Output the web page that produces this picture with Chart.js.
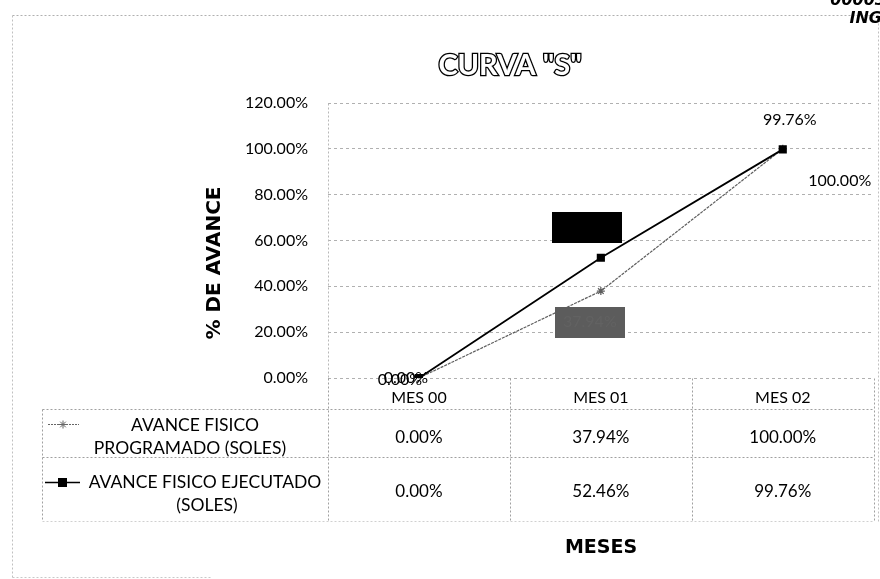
<!DOCTYPE html>
<html>
<head>
<meta charset="utf-8">
<title>Curva S</title>
<script src="https://cdn.jsdelivr.net/npm/chart.js@4.4.0/dist/chart.umd.min.js"></script>
<style>
  html, body { margin: 0; padding: 0; background: #fff; }
  #wrap { width: 880px; height: 579px; }
</style>
</head>
<body>
<div id="wrap"><canvas id="curvaS" width="880" height="579"></canvas></div>
<script>
// avance mensual (%)
const meses = ["MES 00", "MES 01", "MES 02"];
const programado = [0, 37.94, 100];
const ejecutado = [0, 52.46, 99.76];
const yMin = 0, yMax = 120, yStep = 20;
const serieNames = [
  ["AVANCE FISICO", "PROGRAMADO (SOLES)"],
  ["AVANCE FISICO EJECUTADO", "(SOLES)"]
];

const FONT = "Lato, 'Liberation Sans', sans-serif";
const BOLD = "'DejaVu Sans', 'Liberation Sans', sans-serif";
const pct = v => v.toFixed(2) + "%";

// where each value label sits relative to its point, and its box fill
const labelPos = [
  [{ dx: -19, dy: 2 }, { dx: -11, dy: 31, box: "#5c5c5c" }, { dx: 57, dy: 32 }],
  [{ dx: -13, dy: 0 }, { dx: -14, dy: -31, box: "#000" }, { dx: 7, dy: -30 }]
];

function dotted(ctx, x1, y1, x2, y2, color) {
  ctx.save();
  ctx.strokeStyle = color || "#a0a0a0";
  ctx.lineWidth = 1;
  ctx.setLineDash([2, 2]);
  ctx.beginPath();
  ctx.moveTo(x1 + 0.5, y1 + 0.5);
  ctx.lineTo(x2 + 0.5, y2 + 0.5);
  ctx.stroke();
  ctx.restore();
}

const extras = {
  id: "curvaExtras",
  afterDatasetsDraw(chart) {
    const ctx = chart.ctx;
    ctx.save();
    ctx.font = "16px " + FONT;
    ctx.textAlign = "center";
    ctx.textBaseline = "middle";
    chart.data.datasets.forEach((ds, di) => {
      chart.getDatasetMeta(di).data.forEach((pt, i) => {
        const p = labelPos[di][i];
        const x = pt.x + p.dx, y = pt.y + p.dy;
        const txt = pct(ds.data[i]);
        if (p.box) {
          const w = ctx.measureText(txt).width + 16;
          ctx.fillStyle = p.box;
          ctx.fillRect(Math.round(x - w / 2), Math.round(y - 15), Math.round(w), 31);
          ctx.fillStyle = p.box === "#000" ? "#000" : "#626262";
        } else {
          ctx.fillStyle = "#000";
        }
        ctx.fillText(txt, x, y);
      });
    });
    ctx.restore();
  },
  afterDraw(chart) {
    const ctx = chart.ctx;
    const area = chart.chartArea;
    const xs = chart.scales.x;

    // outer frame
    dotted(ctx, 12, 15, 878, 15, "#b0b0b0");
    dotted(ctx, 12, 15, 12, 577, "#c0c0c0");
    dotted(ctx, 878, 15, 878, 522, "#c0c0c0");
    dotted(ctx, 12, 577, 210, 577, "#c8c8c8");

    // title, outlined lettering
    ctx.save();
    ctx.font = "bold 29px " + FONT;
    ctx.textAlign = "center";
    ctx.textBaseline = "middle";
    ctx.lineWidth = 2.6;
    ctx.strokeStyle = "#000";
    ctx.fillStyle = "#fff";
    ctx.strokeText('CURVA "S"', 510, 66);
    ctx.fillText('CURVA "S"', 510, 66);
    ctx.restore();

    // axis titles
    ctx.save();
    ctx.fillStyle = "#000";
    ctx.font = "bold 19px " + BOLD;
    ctx.textAlign = "center";
    ctx.textBaseline = "middle";
    ctx.fillText("MESES", 601, 548);
    ctx.font = "bold 20px " + BOLD;
    ctx.translate(215, 263);
    ctx.rotate(-Math.PI / 2);
    ctx.fillText("% DE AVANCE", 0, 0);
    ctx.restore();

    // corner stamp
    ctx.save();
    ctx.fillStyle = "#000";
    ctx.font = "italic bold 16px " + BOLD;
    ctx.textAlign = "right";
    ctx.textBaseline = "alphabetic";
    ctx.fillText("ING", 882, 23);
    ctx.fillText("00003", 886, 5);
    ctx.restore();

    // data table
    const step = xs.getPixelForValue(1) - xs.getPixelForValue(0);
    const bounds = [area.left];
    meses.forEach((m, i) => bounds.push(Math.round(xs.getPixelForValue(i) + step / 2)));
    const tLeft = 42, r0 = area.bottom, r1 = 409, r2 = 457, r3 = 521;
    dotted(ctx, tLeft, r1, area.right, r1);
    dotted(ctx, tLeft, r2, area.right, r2);
    dotted(ctx, tLeft, r3, area.right, r3, "#d0d0d0");
    dotted(ctx, tLeft, r1, tLeft, r3);
    bounds.forEach(b => dotted(ctx, b, r0, b, r3));
    dotted(ctx, area.left, area.top, area.left, r0, "#b8b8b8");

    ctx.save();
    ctx.fillStyle = "#000";
    ctx.font = "17.5px " + FONT;
    ctx.textAlign = "center";
    ctx.textBaseline = "middle";
    ctx.fillText(serieNames[0][0], 195, 425);
    ctx.fillText(serieNames[0][1], 190, 448);
    ctx.fillText(serieNames[1][0], 205, 482);
    ctx.fillText(serieNames[1][1], 207, 505);
    ctx.font = "17px " + FONT;
    [programado, ejecutado].forEach((vals, r) => {
      vals.forEach((v, i) => ctx.fillText(pct(v), xs.getPixelForValue(i), r === 0 ? 438 : 492));
    });
    ctx.restore();

    // legend keys inside the table
    ctx.save();
    ctx.strokeStyle = "#666";
    ctx.fillStyle = "#666";
    ctx.lineWidth = 1;
    ctx.setLineDash([2, 1]);
    ctx.beginPath(); ctx.moveTo(48, 424.5); ctx.lineTo(79, 424.5); ctx.stroke();
    ctx.setLineDash([]);
    Chart.helpers.drawPoint(ctx, { pointStyle: "star", radius: 4, borderWidth: 1.2 }, 63, 424.5);
    ctx.strokeStyle = "#000";
    ctx.fillStyle = "#000";
    ctx.lineWidth = 1.5;
    ctx.beginPath(); ctx.moveTo(45, 482.5); ctx.lineTo(80, 482.5); ctx.stroke();
    ctx.fillRect(58, 478, 9, 9);
    ctx.restore();
  }
};

new Chart("curvaS", {
  type: "line",
  data: {
    labels: meses,
    datasets: [
      {
        label: serieNames[0].join(" "),
        data: programado,
        order: 1,
        borderColor: "#5e5e5e",
        backgroundColor: "#5e5e5e",
        borderWidth: 1.2,
        borderDash: [3, 1],
        pointStyle: "star",
        pointRadius: 4,
        pointBorderWidth: 1.3,
        tension: 0
      },
      {
        label: serieNames[1].join(" "),
        data: ejecutado,
        order: 0,
        borderColor: "#000",
        backgroundColor: "#000",
        borderWidth: 1.8,
        pointStyle: "rect",
        pointRadius: 4.5,
        tension: 0
      }
    ]
  },
  options: {
    responsive: false,
    animation: false,
    layout: { padding: { top: 103, right: 6, left: 0, bottom: 0 } },
    plugins: {
      legend: { display: false },
      tooltip: { enabled: false }
    },
    scales: {
      x: {
        offset: true,
        grid: { display: false, drawTicks: false },
        border: { display: false },
        ticks: { color: "#000", font: { family: FONT, size: 16 }, padding: 10 },
        afterFit: s => { s.height = 201; }
      },
      y: {
        min: yMin,
        max: yMax,
        grid: { color: "#b0b0b0", drawTicks: false },
        border: { display: false, dash: [3, 3] },
        ticks: {
          stepSize: yStep,
          padding: 20,
          color: "#000",
          font: { family: FONT, size: 16 },
          callback: v => pct(v)
        },
        afterFit: s => { s.width = 328; }
      }
    }
  },
  plugins: [extras]
});
</script>
</body>
</html>
